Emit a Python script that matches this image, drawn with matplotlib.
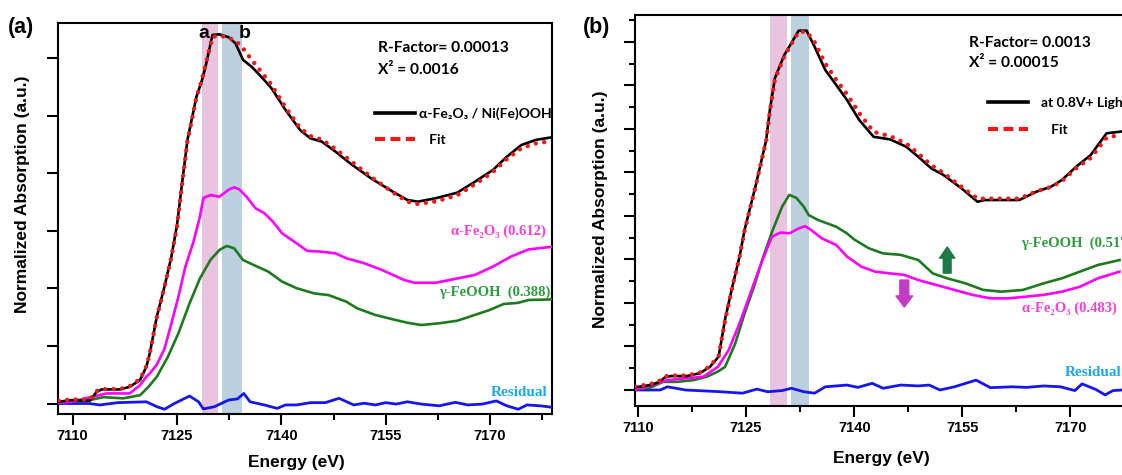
import matplotlib.pyplot as plt
from matplotlib.lines import Line2D
from matplotlib.ticker import MultipleLocator

# ---- (a) alpha-Fe2O3 / Ni(Fe)OOH : Fe K-edge XANES, linear combination fit ----
ea_exp = [7108.0, 7109.8, 7112.5, 7113.45, 7114.2, 7116.8, 7118.2, 7119.7, 7120.6, 7121.1,
          7122.1, 7123.2, 7124.2, 7125.0, 7125.7, 7126.5, 7127.3, 7127.8, 7128.6, 7129.1,
          7130.1, 7131.1, 7132.4, 7133.4, 7134.5, 7135.75, 7137.55, 7138.6, 7140.6, 7142.7,
          7144.2, 7145.8, 7147.8, 7149.9, 7152.9, 7156.0, 7158.1, 7159.6, 7162.2, 7165.25,
          7167.8, 7170.4, 7172.4, 7174.5, 7176.6, 7178.9]
mu_a_exp = [0.006, 0.012, 0.010, 0.041, 0.049, 0.049, 0.058, 0.082, 0.128, 0.175,
            0.302, 0.406, 0.511, 0.620, 0.760, 0.916, 1.009, 1.067, 1.125, 1.171,
            1.282, 1.284, 1.274, 1.253, 1.195, 1.171, 1.125, 1.096, 1.021, 0.951,
            0.922, 0.911, 0.876, 0.835, 0.783, 0.737, 0.708, 0.702, 0.714, 0.733,
            0.771, 0.812, 0.858, 0.899, 0.917, 0.926]
mu_a_fit = [0.010, 0.014, 0.014, 0.043, 0.050, 0.050, 0.060, 0.085, 0.130, 0.175,
            0.300, 0.405, 0.510, 0.615, 0.755, 0.912, 1.005, 1.065, 1.128, 1.178,
            1.275, 1.280, 1.272, 1.262, 1.235, 1.195, 1.140, 1.108, 1.030, 0.958,
            0.930, 0.918, 0.885, 0.845, 0.788, 0.735, 0.702, 0.694, 0.703, 0.724,
            0.762, 0.805, 0.850, 0.888, 0.905, 0.913]

ea_hem = [7108.0, 7109.8, 7112.9, 7114.9, 7118.2, 7119.7, 7120.6, 7121.1, 7122.1, 7123.2,
          7124.2, 7125.2, 7126.2, 7127.3, 7127.8, 7128.3, 7128.8, 7129.8, 7131.1, 7132.4,
          7133.2, 7133.95, 7135.0, 7136.3, 7137.55, 7138.8, 7140.1, 7142.2, 7143.7, 7145.8,
          7147.8, 7149.35, 7151.9, 7154.5, 7157.6, 7159.1, 7162.2, 7165.3, 7167.8, 7170.4,
          7173.0, 7175.55, 7178.9]
mu_a_hem = [0.003, 0.006, 0.024, 0.035, 0.035, 0.064, 0.093, 0.105, 0.135, 0.190,
            0.279, 0.371, 0.476, 0.557, 0.603, 0.650, 0.715, 0.725, 0.719, 0.743,
            0.752, 0.745, 0.719, 0.679, 0.662, 0.632, 0.592, 0.557, 0.531, 0.528,
            0.522, 0.505, 0.488, 0.464, 0.430, 0.420, 0.420, 0.435, 0.447, 0.476,
            0.511, 0.536, 0.545]

ea_lep = [7108.0, 7112.5, 7114.4, 7117.3, 7119.7, 7120.9, 7122.1, 7123.7, 7125.2, 7126.8,
          7128.3, 7129.8, 7131.1, 7132.15, 7133.2, 7134.5, 7136.0, 7138.1, 7140.1, 7142.2,
          7144.7, 7146.8, 7149.35, 7150.9, 7153.5, 7156.5, 7158.1, 7160.1, 7162.7, 7165.3,
          7167.8, 7169.9, 7171.95, 7174.0, 7175.55, 7178.9]
mu_a_lep = [0.003, 0.012, 0.022, 0.018, 0.029, 0.058, 0.093, 0.163, 0.244, 0.348,
            0.435, 0.499, 0.534, 0.548, 0.540, 0.499, 0.482, 0.459, 0.424, 0.401,
            0.383, 0.377, 0.354, 0.331, 0.308, 0.290, 0.281, 0.273, 0.279, 0.288,
            0.308, 0.325, 0.346, 0.350, 0.360, 0.362]

ea_res = [7108.0, 7112.4, 7113.9, 7116.5, 7120.6, 7122.1, 7123.2, 7124.7, 7126.8, 7128.1,
          7128.8, 7130.4, 7132.4, 7133.7, 7134.6, 7135.5, 7137.55, 7139.4, 7140.6, 7142.2,
          7144.2, 7146.3, 7148.3, 7150.4, 7151.9, 7153.5, 7155.0, 7156.5, 7158.1, 7160.1,
          7162.7, 7165.0, 7166.8, 7168.9, 7170.9, 7172.4, 7174.05, 7175.3, 7177.2, 7178.9]
res_a = [0.000, 0.000, -0.005, 0.003, 0.006, -0.011, -0.020, 0.001, 0.026, 0.006,
         -0.019, -0.011, 0.012, 0.016, 0.035, 0.006, -0.005, -0.017, -0.005, -0.005,
         0.003, 0.003, 0.018, -0.005, 0.001, -0.005, 0.003, -0.002, 0.006, -0.002,
         -0.008, 0.004, -0.005, -0.002, 0.009, -0.008, -0.020, -0.005, -0.008, -0.013]

# ---- (b) at 0.8 V + light ----
eb_exp = [7109.6, 7111.7, 7112.9, 7113.8, 7114.5, 7116.8, 7118.6, 7120.0, 7121.2, 7122.1,
          7123.1, 7124.1, 7124.8, 7126.3, 7127.8, 7128.3, 7129.0, 7130.3, 7131.0, 7132.3,
          7133.4, 7134.5, 7136.0, 7137.5, 7139.0, 7140.7, 7142.7, 7145.0, 7147.2, 7148.9,
          7150.7, 7152.4, 7154.9, 7157.1, 7158.1, 7160.4, 7162.9, 7165.3, 7167.3, 7168.8,
          7170.8, 7172.8, 7175.0, 7177.0]
mu_b_exp = [0.009, 0.017, 0.027, 0.044, 0.048, 0.048, 0.058, 0.080, 0.115, 0.245,
            0.356, 0.460, 0.552, 0.701, 0.862, 0.965, 1.075, 1.155, 1.184, 1.239,
            1.239, 1.184, 1.103, 1.052, 1.000, 0.931, 0.873, 0.864, 0.839, 0.804,
            0.764, 0.741, 0.695, 0.649, 0.655, 0.655, 0.655, 0.684, 0.701, 0.724,
            0.770, 0.810, 0.885, 0.891]
mu_b_fit = [0.012, 0.020, 0.030, 0.047, 0.050, 0.050, 0.060, 0.082, 0.117, 0.240,
            0.355, 0.460, 0.550, 0.700, 0.860, 0.960, 1.070, 1.150, 1.180, 1.235,
            1.235, 1.200, 1.125, 1.070, 1.020, 0.955, 0.890, 0.875, 0.850, 0.815,
            0.775, 0.748, 0.700, 0.660, 0.660, 0.660, 0.660, 0.685, 0.700, 0.720,
            0.765, 0.800, 0.870, 0.880]

eb_hem = [7109.6, 7111.2, 7114.1, 7119.1, 7121.1, 7122.6, 7124.1, 7125.6, 7127.1, 7128.6,
          7129.8, 7131.0, 7132.3, 7133.2, 7134.0, 7135.5, 7137.5, 7139.0, 7141.0, 7142.9,
          7144.95, 7146.9, 7148.9, 7151.4, 7153.9, 7156.4, 7158.9, 7161.4, 7163.9, 7166.3,
          7168.8, 7171.3, 7173.8, 7176.8]
mu_b_hem = [0.002, 0.011, 0.034, 0.046, 0.080, 0.138, 0.230, 0.333, 0.437, 0.529,
            0.543, 0.540, 0.557, 0.565, 0.552, 0.523, 0.500, 0.460, 0.425, 0.408,
            0.402, 0.397, 0.379, 0.362, 0.345, 0.328, 0.316, 0.316, 0.322, 0.328,
            0.339, 0.356, 0.385, 0.408]

eb_lep = [7109.6, 7111.7, 7113.5, 7115.4, 7117.7, 7119.6, 7121.2, 7122.1, 7123.5, 7124.8,
          7126.1, 7127.4, 7128.6, 7130.0, 7131.0, 7132.0, 7133.0, 7133.7, 7135.0, 7137.5,
          7139.0, 7140.0, 7142.0, 7144.0, 7146.45, 7148.9, 7150.9, 7152.9, 7155.4, 7157.9,
          7160.4, 7163.4, 7166.3, 7168.8, 7171.3, 7173.8, 7176.8]
mu_b_lep = [0.002, 0.008, 0.028, 0.028, 0.034, 0.046, 0.065, 0.080, 0.160, 0.264,
            0.356, 0.460, 0.545, 0.632, 0.673, 0.662, 0.632, 0.603, 0.586, 0.563,
            0.540, 0.519, 0.489, 0.471, 0.466, 0.448, 0.402, 0.385, 0.368, 0.345,
            0.339, 0.345, 0.368, 0.385, 0.408, 0.431, 0.448]

eb_res = [7109.6, 7113.1, 7114.1, 7116.6, 7121.5, 7124.5, 7126.5, 7128.0, 7130.0, 7131.3,
          7133.0, 7134.5, 7136.0, 7139.0, 7140.5, 7142.5, 7144.0, 7146.45, 7148.9, 7150.4,
          7151.9, 7153.9, 7156.9, 7158.9, 7161.9, 7163.9, 7166.3, 7168.6, 7170.6, 7171.6,
          7173.5, 7174.8, 7175.9, 7177.2]
res_b = [0.000, 0.000, 0.011, 0.000, -0.006, -0.011, 0.003, -0.006, -0.002, 0.006,
         -0.006, -0.011, 0.011, 0.017, 0.009, 0.023, 0.006, 0.017, 0.014, 0.017,
         0.000, 0.011, 0.034, 0.008, 0.011, 0.009, 0.014, 0.011, -0.002, 0.021,
         0.002, -0.017, -0.002, 0.000]

# pre-edge / edge regions marked "a" and "b"
bands_a = [(7128.56, 7130.88), (7131.4, 7134.4)]
bands_b = [(7128.3, 7130.7), (7131.3, 7133.8)]

W, H = 1122, 475
SANS = ['Liberation Sans', 'DejaVu Sans']
CALI = ['Lato', 'DejaVu Sans']
SERIF = ['Liberation Serif', 'DejaVu Serif']

plt.rcParams['font.family'] = SANS
plt.rcParams['font.weight'] = 'bold'

FIT_RED = '#EE1A1A'
MAG = '#FF00FF'
GRN = '#1E7A1E'
BLU = '#1515F0'
BAND_COLORS = ['#E8C4DE', '#BDD0DF']

fig = plt.figure(figsize=(W / 100, H / 100), dpi=100, facecolor='white')


def put(x, y, s, **kw):
    # place text by pixel position on the canvas
    fig.text(x / W, 1 - y / H, s, **kw)


def draw_spectra(ax, e_exp, mu_exp, mu_fit, e_hem, mu_hem, e_lep, mu_lep, e_res, res, bands):
    for (lo, hi), c in zip(bands, BAND_COLORS):
        ax.axvspan(lo, hi, color=c, lw=0, zorder=0)
    ax.plot(e_res, res, color=BLU, lw=2.0, zorder=3)
    ax.plot(e_lep, mu_lep, color=GRN, lw=1.9, zorder=3)
    ax.plot(e_hem, mu_hem, color=MAG, lw=1.9, zorder=3)
    ax.plot(e_exp, mu_exp, color='black', lw=1.9, zorder=4)
    ax.plot(e_exp, mu_fit, color=FIT_RED, lw=3.2, ls=(0, (0.01, 1.9)),
            dash_capstyle='round', zorder=5)


def style_axes(ax, xlim, ylim, ymajor, yminor=None):
    ax.set_xlim(*xlim)
    ax.set_ylim(*ylim)
    ax.xaxis.set_major_locator(MultipleLocator(15))
    ax.xaxis.set_minor_locator(MultipleLocator(7.5))
    ax.yaxis.set_major_locator(MultipleLocator(ymajor))
    if yminor:
        ax.yaxis.set_minor_locator(MultipleLocator(yminor))
    ax.tick_params(which='both', direction='out', width=1.5)
    ax.tick_params(which='major', length=8)
    ax.tick_params(which='minor', length=4.5)
    ax.tick_params(axis='y', labelleft=False)
    ax.tick_params(axis='x', labelsize=10.5, pad=3)
    for sp in ax.spines.values():
        sp.set_linewidth(1.5)


def add_legend(ax, label, x, y, pad):
    handles = [Line2D([], [], color='black', lw=2.6),
               Line2D([], [], color=FIT_RED, lw=3.0, ls=(0, (2.4, 1.3)))]
    ax.legend(handles, [label, '   Fit'], loc='upper left',
              bbox_to_anchor=(x / W, 1 - y / H), bbox_transform=fig.transFigure,
              frameon=False, handlelength=2.9, handletextpad=pad, borderpad=0,
              borderaxespad=0, labelspacing=1.05,
              prop=dict(family=CALI, weight='bold', size=10))


# ---------------- panel (a) ----------------
ax_a = fig.add_axes([58 / W, 1 - 414 / H, (552 - 58) / W, (414 - 23) / H])
draw_spectra(ax_a, ea_exp, mu_a_exp, mu_a_fit, ea_hem, mu_a_hem, ea_lep, mu_a_lep,
             ea_res, res_a, bands_a)
style_axes(ax_a, (7107.9, 7178.9), (-0.0365, 1.3234), 0.2)
add_legend(ax_a, 'α-Fe₂O₃ / Ni(Fe)OOH', 375, 107, 0.3)

# ---------------- panel (b) ----------------
ax_b = fig.add_axes([635 / W, 1 - 406 / H, (1142.6 - 635) / W, (406 - 14.7) / H])
draw_spectra(ax_b, eb_exp, mu_b_exp, mu_b_fit, eb_hem, mu_b_hem, eb_lep, mu_b_lep,
             eb_res, res_b, bands_b)
style_axes(ax_b, (7109.6, 7180.0), (-0.0552, 1.294), 0.15, 0.075)
add_legend(ax_b, 'at 0.8V+ Light', 988, 97, 0.9)

# phase fraction change arrows
ax_b.annotate('', xy=(7152.9, 0.493), xytext=(7152.9, 0.403),
              arrowprops=dict(arrowstyle='simple,head_length=0.4,head_width=0.55,tail_width=0.28',
                              color='#1B7A45', shrinkA=0, shrinkB=0, mutation_scale=20))
ax_b.annotate('', xy=(7146.95, 0.286), xytext=(7146.95, 0.379),
              arrowprops=dict(arrowstyle='simple,head_length=0.4,head_width=0.6,tail_width=0.32',
                              color='#C43CC4', shrinkA=0, shrinkB=0, mutation_scale=20))

# ---------------- text ----------------
put(21, 27, '(a)', fontsize=15.5, ha='center', va='center')
put(597, 27, '(b)', fontsize=15.5, ha='center', va='center')
put(204, 33, 'a', fontsize=14, ha='center', va='center')
put(245, 33, 'b', fontsize=14, ha='center', va='center')

put(378, 48, 'R-Factor= 0.00013', family=CALI, fontsize=11.2, va='center')
put(378, 70, 'X² = 0.0016', family=CALI, fontsize=11.2, va='center')
put(969, 43, 'R-Factor= 0.0013', family=CALI, fontsize=11.2, va='center')
put(969, 63, 'X² = 0.00015', family=CALI, fontsize=11.2, va='center')

lab_mag = '#FF3FD2'
lab_grn = '#2E9B3E'
lab_res = '#1EA6EE'
put(546, 231, 'α-Fe₂O₃ (0.612)', color=lab_mag, family=SERIF, fontsize=10.5, ha='right', va='center')
put(550, 292, 'γ-FeOOH  (0.388)', color=lab_grn, family=SERIF, fontsize=10.5, ha='right', va='center')
put(548, 393, 'Residual', color=lab_res, family=SERIF, fontsize=11, ha='right', va='center')
put(1021, 243, 'γ-FeOOH  (0.517)', color=lab_grn, family=SERIF, fontsize=10.5, ha='left', va='center')
put(1022, 308, 'α-Fe₂O₃ (0.483)', color=lab_mag, family=SERIF, fontsize=10.5, ha='left', va='center')
put(1065, 373, 'Residual', color=lab_res, family=SERIF, fontsize=11, ha='left', va='center')

put(296, 463, 'Energy (eV)', fontsize=12.5, ha='center', va='center')
put(881.5, 458, 'Energy (eV)', fontsize=12.5, ha='center', va='center')
put(23, 194, 'Normalized Absorption (a.u.)', fontsize=12.5, rotation=90, ha='center', va='center')
put(600, 209, 'Normalized Absorption (a.u.)', fontsize=12.5, rotation=90, ha='center', va='center')

fig.savefig('out.png', dpi=100, facecolor='white')
